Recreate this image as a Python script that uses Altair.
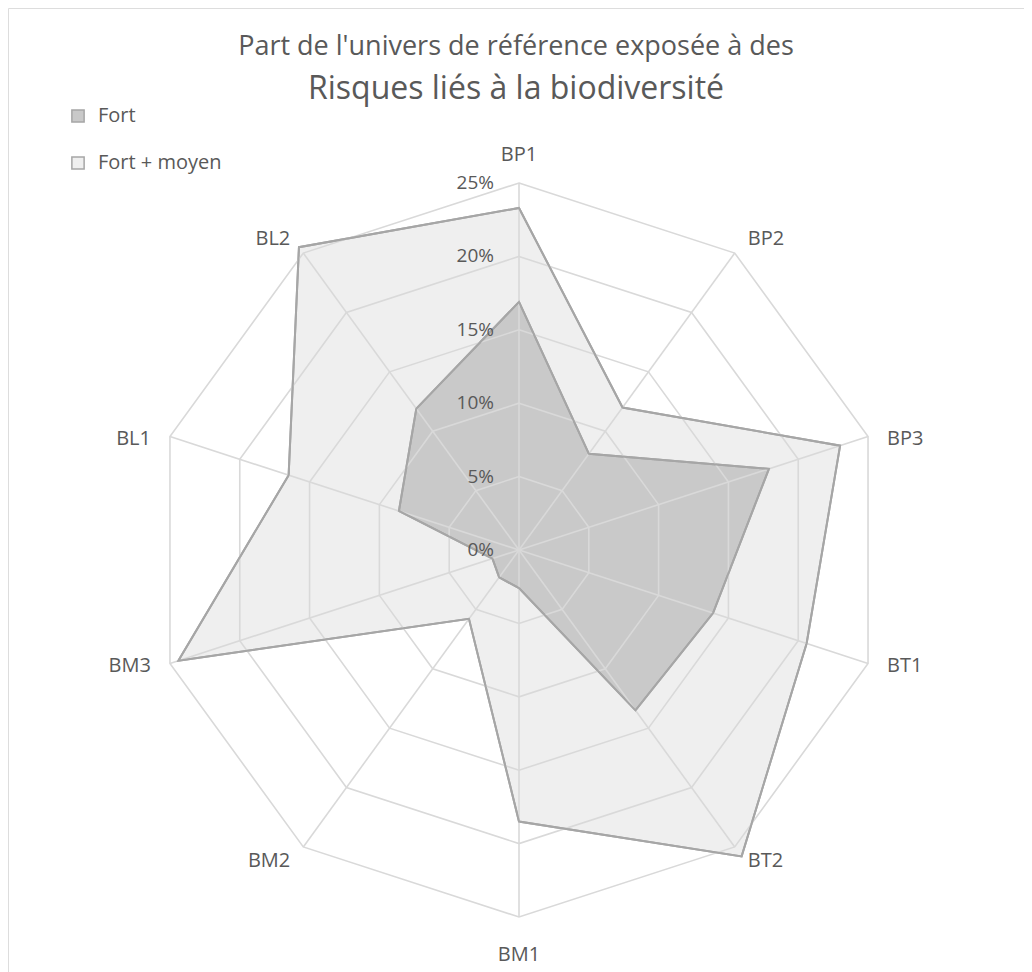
import altair as alt
import pandas as pd

# ---------------- data ----------------
categories = ["BP1", "BP2", "BP3", "BT1", "BT2", "BM1", "BM2", "BM3", "BL1", "BL2"]
fort = [16.9, 8.1, 17.9, 13.9, 13.5, 2.6, 2.3, 1.9, 8.6, 11.9]
fort_moyen = [23.3, 12.0, 23.0, 20.6, 25.8, 18.5, 5.8, 24.4, 16.5, 25.5]
series_names = ["Fort", "Fort + moyen"]
grid_levels = [5, 10, 15, 20, 25]
tick_levels = [0, 5, 10, 15, 20, 25]
tick_labels = ["0%", "5%", "10%", "15%", "20%", "25%"]

N = len(categories)
MAXV = 25

rows = []
for s, vals in zip(series_names, [fort, fort_moyen]):
    for i, (c, v) in enumerate(zip(categories, vals)):
        rows.append({"series": s, "cat": c, "idx": i, "value": v})
df = pd.DataFrame(rows)

ring_rows = [{"level": lv, "idx": i} for lv in grid_levels for i in range(N)]
rings = pd.DataFrame(ring_rows)
spokes = pd.DataFrame({"cat": categories, "idx": list(range(N))})
ticks = pd.DataFrame({"level": tick_levels, "label": tick_labels})

# ---------------- layout ----------------
W, H = 1016, 964
PX = 367 / MAXV           # pixels per percent
CX, CY = 511, 542         # centre inside plot area
x_scale = alt.Scale(domain=[-CX / PX, (W - CX) / PX], nice=False, zero=False)
y_scale = alt.Scale(domain=[-(H - CY) / PX, CY / PX], nice=False, zero=False)

TXT = "#595959"
GRID = "#d9d9d9"
FONT = "Open Sans"

ang = f"datum.idx * 2 * PI / {N}"


def xy(field):
    return {
        "ang": ang,
        "px": f"datum.{field} * sin(datum.ang)",
        "py": f"datum.{field} * cos(datum.ang)",
    }


X = alt.X("px:Q", scale=x_scale, axis=None)
Y = alt.Y("py:Q", scale=y_scale, axis=None)

fill_scale = alt.Scale(domain=series_names, range=["#c9c9c9", "#efefef"])
legend = alt.Legend(
    title=None, orient="none", legendX=60, legendY=98, symbolType="square",
    symbolSize=150, symbolStrokeWidth=1.5, labelFontSize=20, labelColor=TXT,
    labelFont=FONT, labelOffset=10, rowPadding=27,
)


def poly_fill(name):
    return (
        alt.Chart(df)
        .transform_filter(alt.datum.series == name)
        .transform_calculate(**xy("value"))
        .mark_line(interpolate="linear-closed", stroke="#a6a6a6", strokeWidth=2)
        .encode(x=X, y=Y, order="idx:O",
                fill=alt.Fill("series:N", scale=fill_scale, legend=legend))
    )


outer_fill = poly_fill("Fort + moyen")
inner_fill = poly_fill("Fort")

ring_layer = (
    alt.Chart(rings)
    .transform_calculate(**xy("level"))
    .mark_line(interpolate="linear-closed", stroke=GRID, strokeWidth=1.6)
    .encode(x=X, y=Y, order="idx:O", detail="level:N")
)

spoke_layer = (
    alt.Chart(spokes)
    .transform_calculate(ang=ang, px="0", py="0",
                         px2=f"{MAXV} * sin(datum.ang)", py2=f"{MAXV} * cos(datum.ang)")
    .mark_rule(stroke=GRID, strokeWidth=1.6)
    .encode(x=X, y=Y, x2="px2:Q", y2="py2:Q")
)

outline_layer = (
    alt.Chart(df)
    .transform_calculate(**xy("value"))
    .mark_line(interpolate="linear-closed", stroke="#a6a6a6", strokeWidth=2)
    .encode(x=X, y=Y, order="idx:O", detail="series:N")
)

tick_layer = (
    alt.Chart(ticks)
    .transform_calculate(px="0", py="datum.level")
    .mark_text(align="right", baseline="middle", dx=-25, fontSize=19, color=TXT, font=FONT)
    .encode(x=X, y=Y, text="label:N")
)

# category labels (offsets in pixels converted to data units)
lab_calc = dict(
    ang=ang,
    s="sin(datum.ang)",
    c="cos(datum.ang)",
    px=f"{MAXV} * datum.s + (abs(datum.s) > 0.9 ? 19 : abs(datum.s) > 0.3 ? 13 : 0) * (datum.s > 0 ? 1 : -1) / {PX}",
    py=f"{MAXV} * datum.c + (datum.c > 0.99 ? 28 : datum.c < -0.99 ? -38 : abs(datum.c) > 0.5 ? 14 * (datum.c > 0 ? 1 : -1) : -2.5) / {PX}",
)


def cat_labels(cond, align):
    return (
        alt.Chart(spokes)
        .transform_calculate(**lab_calc)
        .transform_filter(cond)
        .mark_text(align=align, baseline="middle", fontSize=20, color=TXT, font=FONT)
        .encode(x=X, y=Y, text="cat:N")
    )


lab_right = cat_labels("datum.s > 0.1", "left")
lab_left = cat_labels("datum.s < -0.1", "right")
lab_mid = cat_labels("abs(datum.s) <= 0.1", "center")

chart = (
    alt.layer(outer_fill, inner_fill, ring_layer, spoke_layer, outline_layer,
              tick_layer, lab_right, lab_left, lab_mid)
    .properties(
        width=W, height=H,
        autosize=alt.AutoSizeParams(type="none"),
        padding=0,
        title=alt.Title(
            text="Part de l'univers de référence exposée à des",
            subtitle="Risques liés à la biodiversité",
            anchor="middle", orient="top", offset=-98,
            font=FONT, fontSize=27, fontWeight="normal", color=TXT,
            subtitleFont=FONT, subtitleFontSize=32, subtitleColor=TXT,
            subtitlePadding=13,
        ),
    )
    .configure_view(stroke=GRID, strokeWidth=1.5)
    .configure(background="white")
)

chart.save("out.html", embed_options={"renderer": "svg", "actions": False})
